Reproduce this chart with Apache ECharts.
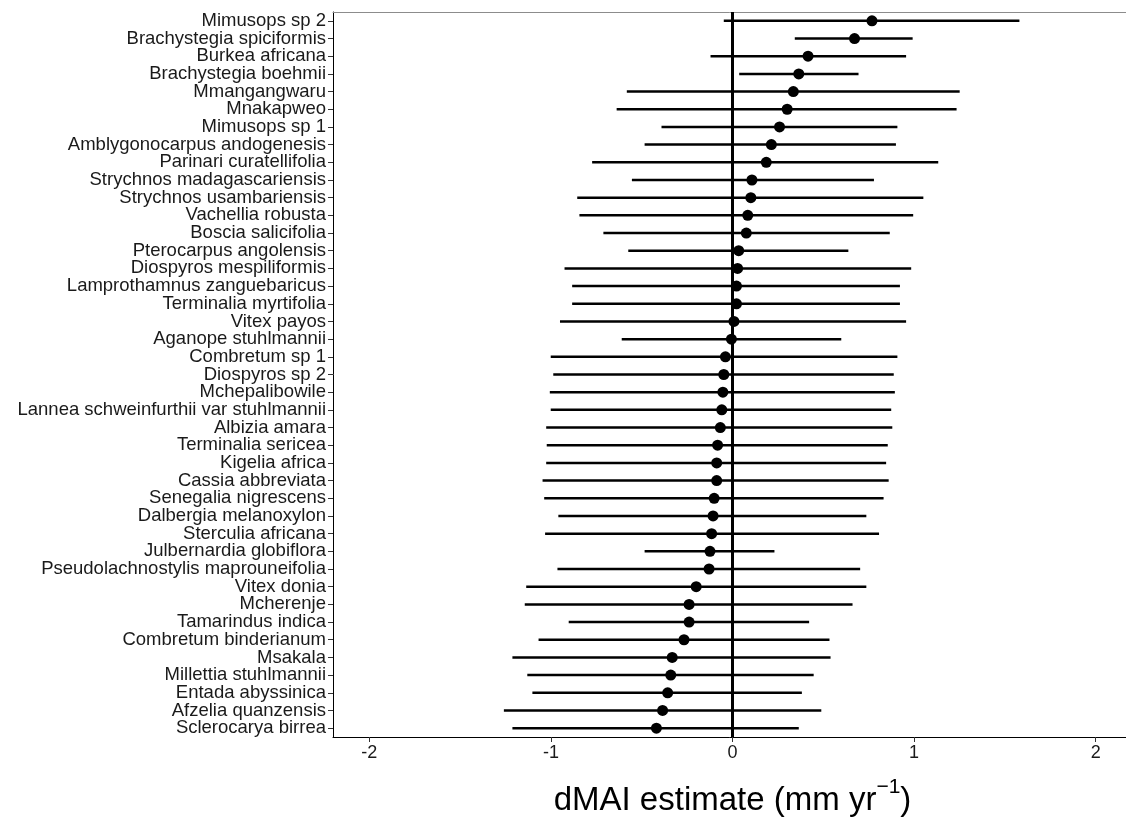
<!DOCTYPE html>
<html>
<head>
<meta charset="utf-8">
<script src="https://cdn.jsdelivr.net/npm/echarts@6/dist/echarts.min.js"></script>
<style>
  html, body { margin: 0; padding: 0; background: #fff; }
  #chart { width: 1126px; height: 819px; }
</style>
</head>
<body>
<div id="chart"></div>
<script>
// species, top to bottom
var species = [
    'Mimusops sp 2', 'Brachystegia spiciformis', 'Burkea africana', 'Brachystegia boehmii',
    'Mmangangwaru', 'Mnakapweo', 'Mimusops sp 1', 'Amblygonocarpus andogenesis',
    'Parinari curatellifolia', 'Strychnos madagascariensis', 'Strychnos usambariensis',
    'Vachellia robusta', 'Boscia salicifolia', 'Pterocarpus angolensis', 'Diospyros mespiliformis',
    'Lamprothamnus zanguebaricus', 'Terminalia myrtifolia', 'Vitex payos', 'Aganope stuhlmannii',
    'Combretum sp 1', 'Diospyros sp 2', 'Mchepalibowile', 'Lannea schweinfurthii var stuhlmannii',
    'Albizia amara', 'Terminalia sericea', 'Kigelia africa', 'Cassia abbreviata',
    'Senegalia nigrescens', 'Dalbergia melanoxylon', 'Sterculia africana', 'Julbernardia globiflora',
    'Pseudolachnostylis maprouneifolia', 'Vitex donia', 'Mcherenje', 'Tamarindus indica',
    'Combretum binderianum', 'Msakala', 'Millettia stuhlmannii', 'Entada abyssinica',
    'Afzelia quanzensis', 'Sclerocarya birrea'
];
var estimate = [
    0.768, 0.672, 0.416, 0.365, 0.335, 0.301, 0.259, 0.214, 0.186, 0.107, 0.101,
    0.084, 0.076, 0.034, 0.028, 0.022, 0.022, 0.008, -0.006, -0.039, -0.048,
    -0.053, -0.059, -0.067, -0.082, -0.087, -0.087, -0.101, -0.107, -0.115, -0.124,
    -0.129, -0.200, -0.239, -0.239, -0.267, -0.332, -0.340, -0.357, -0.385, -0.419
];
var lower = [
    -0.048, 0.343, -0.121, 0.037, -0.582, -0.638, -0.391, -0.484, -0.773, -0.554, -0.855,
    -0.843, -0.711, -0.574, -0.925, -0.883, -0.883, -0.950, -0.610, -1.001, -0.987,
    -1.006, -1.001, -1.026, -1.023, -1.026, -1.046, -1.037, -0.959, -1.032, -0.484,
    -0.964, -1.136, -1.144, -0.902, -1.068, -1.212, -1.130, -1.102, -1.259, -1.212
];
var upper = [
    1.580, 0.992, 0.956, 0.694, 1.251, 1.234, 0.908, 0.900, 1.133, 0.779, 1.051,
    0.995, 0.866, 0.638, 0.984, 0.922, 0.922, 0.956, 0.599, 0.908, 0.888,
    0.894, 0.874, 0.880, 0.855, 0.846, 0.860, 0.832, 0.737, 0.807, 0.231,
    0.703, 0.737, 0.661, 0.422, 0.534, 0.540, 0.447, 0.382, 0.489, 0.365
];
var xTicks = [-2, -1, 0, 1, 2];

var font = '"Liberation Sans", Arial, sans-serif';

var intervals = species.map(function(s, i) { return [lower[i], upper[i], i]; });
var points = species.map(function(s, i) { return [estimate[i], i]; });

var chart = echarts.init(document.getElementById('chart'));
chart.setOption({
    backgroundColor: '#fff',
    animation: false,
    grid: {
        left: 333, top: 12, width: 799, height: 725,
        outerBoundsMode: 'none',
        containLabel: false
    },
    xAxis: [{
        type: 'value',
        min: -2.2,
        max: 2.2,
        splitLine: { show: false },
        axisLine: { show: true, onZero: false, lineStyle: { color: '#000', width: 1 } },
        axisTick: { show: true, length: 5, customValues: xTicks, lineStyle: { color: '#333' } },
        axisLabel: { customValues: xTicks, color: '#1a1a1a', fontSize: 18, fontFamily: font, margin: 7 },
        name: '{a|dMAI estimate (mm yr}{s|−1}{a|)}',
        nameLocation: 'middle',
        nameGap: 40,
        nameTextStyle: {
            rich: {
                a: { fontSize: 33, fontFamily: font, color: '#000', verticalAlign: 'bottom', lineHeight: 40 },
                s: { fontSize: 21, fontFamily: font, color: '#000', verticalAlign: 'top', lineHeight: 40, padding: [0, 0, 14, 0] }
            }
        }
    }, {
        // top frame line only
        type: 'value',
        position: 'top',
        min: -2.2,
        max: 2.2,
        splitLine: { show: false },
        axisLine: { show: true, onZero: false, lineStyle: { color: '#8c8c8c', width: 1 } },
        axisTick: { show: false },
        axisLabel: { show: false }
    }],
    yAxis: {
        type: 'category',
        inverse: true,
        data: species,
        splitLine: { show: false },
        axisLine: { show: true, onZero: false, lineStyle: { color: '#000', width: 1 } },
        axisTick: { show: true, length: 5, alignWithLabel: true, lineStyle: { color: '#333' } },
        axisLabel: { interval: 0, color: '#1a1a1a', fontSize: 18.5, fontFamily: font, margin: 7 }
    },
    series: [{
        type: 'custom',
        xAxisIndex: 0,
        data: intervals,
        encode: { x: [0, 1], y: 2 },
        renderItem: function(params, api) {
            var a = api.coord([api.value(0), api.value(2)]);
            var b = api.coord([api.value(1), api.value(2)]);
            return {
                type: 'line',
                shape: { x1: a[0], y1: a[1], x2: b[0], y2: b[1] },
                style: { stroke: '#000', lineWidth: 2.5 }
            };
        },
        z: 2
    }, {
        type: 'scatter',
        xAxisIndex: 0,
        data: points,
        symbol: 'circle',
        symbolSize: 11,
        itemStyle: { color: '#000', opacity: 1 },
        z: 4,
        markLine: {
            silent: true,
            symbol: 'none',
            label: { show: false },
            lineStyle: { color: '#000', width: 3, type: 'solid' },
            data: [{ xAxis: 0 }],
            z: 3
        }
    }]
});
</script>
</body>
</html>
